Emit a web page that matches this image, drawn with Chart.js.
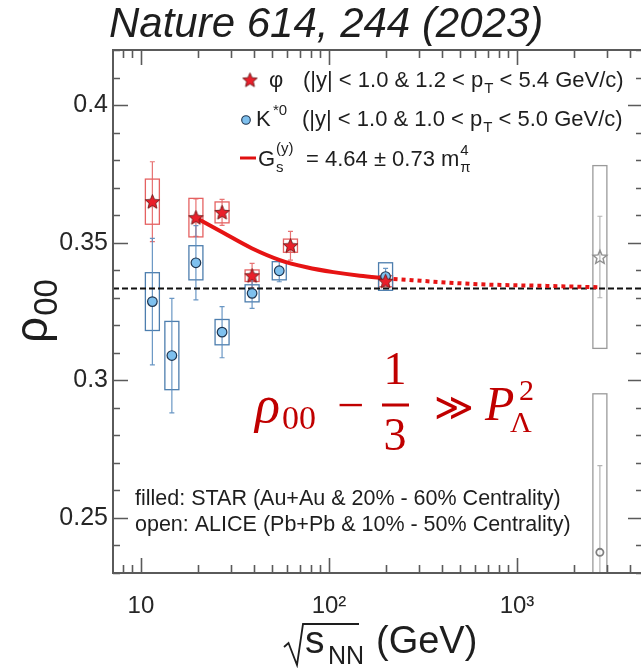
<!DOCTYPE html>
<html><head><meta charset="utf-8">
<script src="https://cdn.jsdelivr.net/npm/chart.js@4.4.1/dist/chart.umd.min.js"></script>
<style>
html,body{margin:0;padding:0;background:#fff;overflow:hidden}
#clip{width:641px;height:668px;overflow:hidden;position:relative}
#wrap{width:660px;height:668px;position:absolute;left:0;top:0}
</style></head><body>
<div id="clip"><div id="wrap"><canvas id="c"></canvas></div></div>
<script>
// axis ranges and tick labels
const xMin = 7.1, xMax = 4680;
const yMin = 0.23, yMax = 0.42;
const yTicks = [0.25, 0.30, 0.35, 0.40];
const yTickLabels = ['0.25', '0.3', '0.35', '0.4'];
const xTicks = [10, 100, 1000];
const xTickLabels = ['10', '10²', '10³'];

// STAR phi (Au+Au, 20-60%)
const phiEnergy = [11.5, 19.6, 27, 39, 62.4, 200];
const phiRho    = [0.3649, 0.3591, 0.3610, 0.3380, 0.3489, 0.3360];
const phiStat   = [0.0145, 0.0068, 0.0047, 0.0045, 0.0052, 0.0012];
const phiSys    = [0.0082, 0.0070, 0.0038, 0.0021, 0.0024, 0.0020];

// STAR K*0 (Au+Au, 20-60%)
const kstarEnergy = [11.5, 14.6, 19.6, 27, 39, 54.4, 200];
const kstarRho    = [0.3286, 0.3090, 0.3427, 0.3175, 0.3316, 0.3398, 0.3377];
const kstarStat   = [0.0230, 0.0208, 0.0135, 0.0093, 0.0055, 0.0040, 0.0030];
const kstarSys    = [0.0105, 0.0124, 0.0062, 0.0046, 0.0031, 0.0033, 0.0050];

// ALICE (Pb+Pb, 10-50%)
const aliceEnergy    = [2760];
const alicePhiRho    = [0.3448];
const alicePhiStat   = [0.0148];
const alicePhiSys    = [0.0332];
const aliceKstarRho  = [0.2375];
const aliceKstarStat = [0.0315];
const aliceKstarSys  = [0.0576];

// phi-field model curve (solid over the fitted range, dotted extrapolation)
const fitEnergy = [19.6, 27.4, 38.8, 54.8, 76, 105.5, 146, 200];
const fitRho    = [0.3591, 0.3536, 0.3480, 0.3437, 0.3411, 0.3393, 0.3380, 0.3371];
const extEnergy = [200, 630, 1440, 2760];
const extRho    = [0.3370, 0.3349, 0.3343, 0.3338];

// unpolarised value
const refRho = 1 / 3;

const SANS = "'Liberation Sans', Arial, sans-serif";
const SERIF = "'Liberation Serif', 'Times New Roman', serif";

function pts(xs, ys) { return xs.map((x, i) => ({ x: x, y: ys[i] })); }

function makeStar(r, fill, stroke, lw) {
  const s = Math.ceil(2 * r + 2 * lw + 2);
  const c = document.createElement('canvas');
  c.width = s; c.height = s;
  const g = c.getContext('2d');
  g.translate(s / 2, s / 2 + 0.5);
  g.beginPath();
  for (let i = 0; i < 10; i++) {
    const a = -Math.PI / 2 + i * Math.PI / 5;
    const rr = (i % 2) ? r * 0.45 : r;
    g.lineTo(rr * Math.cos(a), rr * Math.sin(a));
  }
  g.closePath();
  if (fill) { g.fillStyle = fill; g.fill(); }
  g.lineWidth = lw; g.strokeStyle = stroke; g.lineJoin = 'miter'; g.stroke();
  return c;
}
const redStar = makeStar(7.6, '#ea1f2a', '#6a1515', 0.9);
const openStar = makeStar(7.2, null, '#8c8c8c', 1.4);

const series = [
  { xs: phiEnergy, ys: phiRho, stat: phiStat, sys: phiSys, box: 'rgba(228,88,88,0.95)', bar: 'rgba(228,100,100,0.9)' },
  { xs: kstarEnergy, ys: kstarRho, stat: kstarStat, sys: kstarSys, box: '#4d7eae', bar: 'rgba(90,140,190,0.9)' },
  { xs: aliceEnergy, ys: alicePhiRho, stat: alicePhiStat, sys: alicePhiSys, box: '#9a9a9a', bar: '#b4b4b4' },
  { xs: aliceEnergy, ys: aliceKstarRho, stat: aliceKstarStat, sys: aliceKstarSys, box: '#9a9a9a', bar: '#b4b4b4' }
];

// systematic boxes and statistical bars, drawn beneath the markers
const uncertaintyPlugin = {
  id: 'uncertainties',
  beforeDatasetsDraw(chart) {
    const { ctx, chartArea: a, scales: { x, y } } = chart;
    ctx.save();
    ctx.beginPath(); ctx.rect(a.left, a.top, a.right - a.left, a.bottom - a.top); ctx.clip();
    series.forEach(s => {
      s.xs.forEach((e, i) => {
        const px = x.getPixelForValue(e);
        const v = s.ys[i];
        const yTop = y.getPixelForValue(v + s.sys[i]);
        const yBot = y.getPixelForValue(v - s.sys[i]);
        ctx.strokeStyle = s.box; ctx.lineWidth = 1.3;
        ctx.strokeRect(px - 7, yTop, 14, yBot - yTop);
        const sTop = y.getPixelForValue(v + s.stat[i]);
        const sBot = y.getPixelForValue(v - s.stat[i]);
        ctx.strokeStyle = s.bar; ctx.lineWidth = 1.2;
        ctx.beginPath();
        ctx.moveTo(px, sTop); ctx.lineTo(px, sBot);
        ctx.moveTo(px - 2.5, sTop); ctx.lineTo(px + 2.5, sTop);
        ctx.moveTo(px - 2.5, sBot); ctx.lineTo(px + 2.5, sBot);
        ctx.stroke();
      });
    });
    ctx.restore();
  }
};

function txt(ctx, s, x, y, font, color, align) {
  ctx.font = font; ctx.fillStyle = color;
  ctx.textAlign = align || 'left'; ctx.textBaseline = 'alphabetic';
  ctx.fillText(s, x, y);
  return ctx.measureText(s).width;
}

// frame, inward ticks, titles, legend and notes
const decorPlugin = {
  id: 'decor',
  afterDraw(chart) {
    const { ctx, chartArea: a, scales: { x, y } } = chart;
    ctx.save();
    const frame = '#5a5a5a';
    ctx.strokeStyle = frame; ctx.lineWidth = 1.6;
    ctx.beginPath();
    // y ticks
    for (let k = 23; k <= 42; k++) {
      const v = k / 100;
      const py = Math.round(y.getPixelForValue(v)) + 0.5;
      const major = (k % 5 === 0);
      const len = major ? 15 : 7;
      ctx.moveTo(a.left, py); ctx.lineTo(a.left + len, py);
      ctx.moveTo(a.right, py); ctx.lineTo(a.right - len, py);
    }
    // x ticks (log decades)
    for (let d = 0; d <= 3; d++) {
      for (let m = 1; m <= 9; m++) {
        const v = m * Math.pow(10, d);
        if (v < xMin || v > xMax) continue;
        const px = Math.round(x.getPixelForValue(v)) + 0.5;
        const len = (m === 1) ? 15 : 8;
        ctx.moveTo(px, a.bottom); ctx.lineTo(px, a.bottom - len);
        ctx.moveTo(px, a.top); ctx.lineTo(px, a.top + len);
      }
    }
    ctx.stroke();
    ctx.lineWidth = 2;
    ctx.strokeRect(a.left, a.top, a.right - a.left, a.bottom - a.top);

    const ink = '#1e1e1e';
    // title
    txt(ctx, 'Nature 614, 244 (2023)', 109, 37, 'italic 42px ' + SANS, ink);

    // y axis title
    ctx.save();
    ctx.translate(47, 343);
    ctx.rotate(-Math.PI / 2);
    const wr = txt(ctx, 'ρ', 0, 0, '46px ' + SANS, ink);
    txt(ctx, '00', wr + 1, 10, '33px ' + SANS, ink);
    ctx.restore();

    // x axis title: sqrt(s_NN) (GeV)
    ctx.strokeStyle = ink; ctx.lineWidth = 1.8; ctx.lineJoin = 'miter';
    ctx.beginPath();
    ctx.moveTo(284, 647); ctx.lineTo(288.5, 643); ctx.lineTo(297, 665);
    ctx.lineTo(303, 624); ctx.lineTo(359, 624);
    ctx.stroke();
    txt(ctx, 's', 305, 653, '39px ' + SANS, ink);
    txt(ctx, 'NN', 328, 664, '25px ' + SANS, ink);
    txt(ctx, '(GeV)', 376, 653, '38px ' + SANS, ink);

    // legend
    const L = '22px ' + SANS, S = '15px ' + SANS;
    ctx.drawImage(redStar, 250 - redStar.width / 2, 80 - redStar.height / 2);
    txt(ctx, 'φ', 269, 87, L, ink);
    let lx = 303;
    lx += txt(ctx, '(|y| < 1.0 & 1.2 < p', lx, 87, L, ink);
    lx += txt(ctx, 'T', lx + 1, 93, S, ink) + 1;
    txt(ctx, ' < 5.4 GeV/c)', lx, 87, L, ink);

    ctx.beginPath(); ctx.arc(246, 120, 4.3, 0, Math.PI * 2);
    ctx.fillStyle = '#7ec0ee'; ctx.fill();
    ctx.lineWidth = 1.1; ctx.strokeStyle = '#1f3550'; ctx.stroke();
    txt(ctx, 'K', 256, 126, L, ink);
    txt(ctx, '*0', 273, 115, S, ink);
    lx = 302;
    lx += txt(ctx, '(|y| < 1.0 & 1.0 < p', lx, 126, L, ink);
    lx += txt(ctx, 'T', lx + 1, 132, S, ink) + 1;
    txt(ctx, ' < 5.0 GeV/c)', lx, 126, L, ink);

    ctx.strokeStyle = '#e01010'; ctx.lineWidth = 3;
    ctx.beginPath(); ctx.moveTo(240, 158); ctx.lineTo(256, 158); ctx.stroke();
    txt(ctx, 'G', 258, 166, L, ink);
    txt(ctx, '(y)', 276, 153, S, ink);
    txt(ctx, 's', 276, 172, S, ink);
    const wm = txt(ctx, '= 4.64 ± 0.73 m', 306, 166, L, ink);
    txt(ctx, '4', 306 + wm + 1, 155, S, ink);
    txt(ctx, 'π', 306 + wm + 1, 172, S, ink);

    // notes
    const N = '21.5px ' + SANS;
    txt(ctx, 'filled: STAR (Au+Au & 20% - 60% Centrality)', 135, 505, N, ink);
    txt(ctx, 'open: ALICE (Pb+Pb & 10% - 50% Centrality)', 135, 531, N, ink);

    // relation in red
    const R = '#c00000';
    const wrho = txt(ctx, 'ρ', 255, 422, 'italic 52px ' + SERIF, R);
    txt(ctx, '00', 255 + wrho + 2, 429, '34px ' + SERIF, R);
    txt(ctx, '−', 337, 421, '48px ' + SERIF, R);
    txt(ctx, '1', 395, 384, '46px ' + SERIF, R, 'center');
    ctx.fillStyle = R; ctx.fillRect(382, 403.5, 27, 3);
    txt(ctx, '3', 395, 450, '46px ' + SERIF, R, 'center');
    txt(ctx, '≫', 434, 420, "38px 'DejaVu Serif', serif", R);
    txt(ctx, 'P', 485, 420, 'italic 48px ' + SERIF, R);
    txt(ctx, '2', 519, 400, '30px ' + SERIF, R);
    txt(ctx, 'Λ', 510, 432, '30px ' + SERIF, R);
    ctx.restore();
  }
};

const chart = new Chart(document.getElementById('c'), {
  type: 'scatter',
  data: {
    datasets: [
      { label: 'phi STAR', data: pts(phiEnergy, phiRho), pointStyle: redStar, pointRadius: 7, order: 1 },
      { label: 'K*0 STAR', data: pts(kstarEnergy, kstarRho), pointStyle: 'circle', pointRadius: 4.8,
        backgroundColor: '#7ec0ee', borderColor: '#1f3550', borderWidth: 1.2, order: 2 },
      { label: 'phi ALICE', data: pts(aliceEnergy, alicePhiRho), pointStyle: openStar, pointRadius: 7, order: 1 },
      { label: 'K*0 ALICE', data: pts(aliceEnergy, aliceKstarRho), pointStyle: 'circle', pointRadius: 3.6,
        backgroundColor: 'rgba(255,255,255,0.6)', borderColor: '#808080', borderWidth: 1.8, order: 2 },
      { label: 'model', data: pts(fitEnergy, fitRho), showLine: true, pointRadius: 0,
        borderColor: '#e61414', borderWidth: 4, cubicInterpolationMode: 'monotone', order: 3 },
      { label: 'model ext', data: pts(extEnergy, extRho), showLine: true, pointRadius: 0,
        borderColor: '#e61414', borderWidth: 4, borderDash: [4, 4], cubicInterpolationMode: 'monotone', order: 3 },
      { label: '1/3', data: [{ x: xMin, y: refRho }, { x: xMax, y: refRho }], showLine: true, pointRadius: 0,
        borderColor: '#111', borderWidth: 2, borderDash: [6, 3], order: 5 }
    ]
  },
  options: {
    responsive: true,
    maintainAspectRatio: false,
    animation: false,
    events: [],
    layout: { padding: { top: 50, right: 17, left: 0, bottom: 0 } },
    plugins: { legend: { display: false }, tooltip: { enabled: false }, title: { display: false } },
    scales: {
      x: {
        type: 'logarithmic', min: xMin, max: xMax,
        grid: { display: false, drawTicks: false }, border: { display: false },
        afterBuildTicks: s => { s.ticks = xTicks.map(v => ({ value: v })); },
        afterFit: s => { s.height = 95; },
        ticks: {
          autoSkip: false, maxRotation: 0, padding: 19, color: '#262626',
          font: { family: SANS, size: 24 },
          callback: v => { const i = xTicks.indexOf(v); return i >= 0 ? xTickLabels[i] : ''; }
        }
      },
      y: {
        type: 'linear', min: yMin, max: yMax,
        grid: { display: false, drawTicks: false }, border: { display: false },
        afterBuildTicks: s => { s.ticks = yTicks.map(v => ({ value: v })); },
        afterFit: s => { s.width = 113; },
        ticks: {
          padding: 5, color: '#262626',
          font: { family: SANS, size: 25 },
          callback: v => { const i = yTicks.indexOf(v); return i >= 0 ? yTickLabels[i] : ''; }
        }
      }
    }
  },
  plugins: [uncertaintyPlugin, decorPlugin]
});
</script>
</body></html>
